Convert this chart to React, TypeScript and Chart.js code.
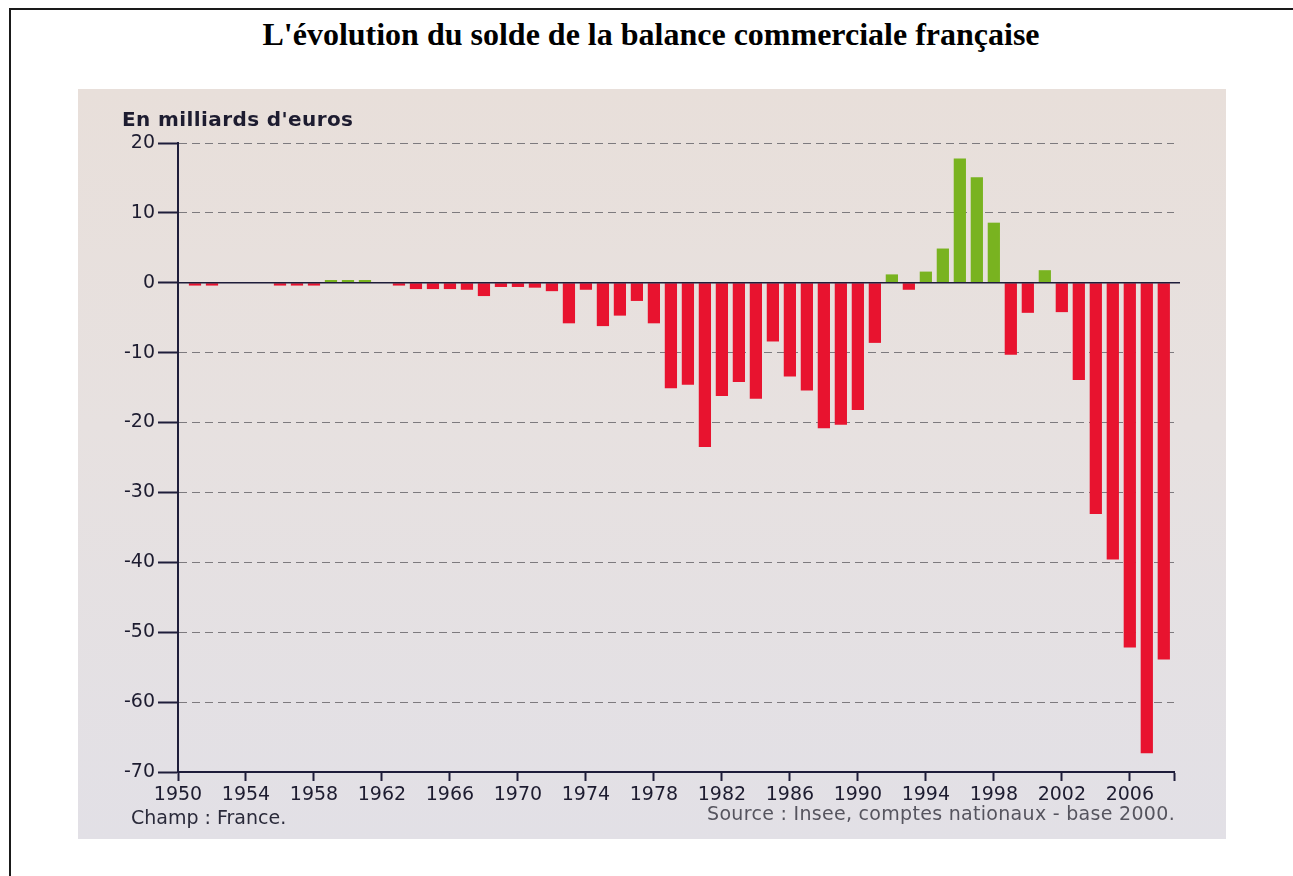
import React, { useEffect, useRef } from "react";
import { Chart, registerables } from "chart.js";

Chart.register(...registerables);

// ---- Data ----
const years = [
  1951, 1952, 1953, 1954, 1955, 1956, 1957, 1958, 1959, 1960,
  1961, 1962, 1963, 1964, 1965, 1966, 1967, 1968, 1969, 1970,
  1971, 1972, 1973, 1974, 1975, 1976, 1977, 1978, 1979, 1980,
  1981, 1982, 1983, 1984, 1985, 1986, 1987, 1988, 1989, 1990,
  1991, 1992, 1993, 1994, 1995, 1996, 1997, 1998, 1999, 2000,
  2001, 2002, 2003, 2004, 2005, 2006, 2007, 2008,
];

const balance = [
  -0.4, -0.4, 0, 0, 0, -0.4, -0.4, -0.4, 0.4, 0.4,
  0.4, 0, -0.4, -0.9, -0.9, -0.9, -1.0, -1.9, -0.6, -0.6,
  -0.7, -1.2, -5.8, -1.0, -6.2, -4.7, -2.6, -5.8, -15.1, -14.6,
  -23.5, -16.2, -14.2, -16.6, -8.4, -13.4, -15.4, -20.8, -20.3, -18.2,
  -8.6, 1.2, -1.0, 1.6, 4.9, 17.8, 15.1, 8.6, -10.3, -4.3,
  1.8, -4.2, -13.9, -33.1, -39.6, -52.2, -67.3, -53.9,
];

const tickYears = [1950, 1954, 1958, 1962, 1966, 1970, 1974, 1978, 1982, 1986, 1990, 1994, 1998, 2002, 2006];
const X_MIN = 1950;
const X_MAX = 2008.6;
const Y_MIN = -70;
const Y_MAX = 20;
const Y_STEP = 10;

const pageTitle = "L'évolution du solde de la balance commerciale française";
const unitLabel = "En milliards d'euros";
const fieldNote = "Champ : France.";
const sourceNote = "Source : Insee, comptes nationaux - base 2000.";

// ---- Styles ----
const RED = "#e8132f";
const GREEN = "#79b320";
const AXIS = "#1e1d3a";
const TXT = "#1d1c30";
const GRID = "#7d7a7e";
const FONT = "'DejaVu Sans', 'Open Sans', sans-serif";

export default function App() {
  const canvasRef = useRef<HTMLCanvasElement | null>(null);

  useEffect(() => {
    const canvas = canvasRef.current;
    if (!canvas) return;

    const zeroLine = {
      id: "zeroLine",
      afterDatasetsDraw(chart: any) {
        const { ctx, chartArea, scales } = chart;
        const y = scales.y.getPixelForValue(0);
        ctx.save();
        ctx.strokeStyle = AXIS;
        ctx.lineWidth = 1.5;
        ctx.beginPath();
        ctx.moveTo(chartArea.left, y);
        ctx.lineTo(chartArea.right + 6, y);
        ctx.stroke();
        ctx.restore();
      },
    };

    const chart = new Chart(canvas, {
      type: "bar",
      data: {
        datasets: [
          {
            data: years.map((x, i) => ({ x, y: balance[i] })),
            backgroundColor: (c: any) => ((c.parsed && c.parsed.y) >= 0 ? GREEN : RED),
            barPercentage: 0.72,
            categoryPercentage: 1,
            borderWidth: 0,
          } as any,
        ],
      },
      options: {
        animation: false,
        responsive: false,
        maintainAspectRatio: false,
        layout: { padding: { left: 0, right: 52, top: 54, bottom: 0 } },
        plugins: {
          legend: { display: false },
          title: { display: false },
          tooltip: { enabled: false },
        },
        scales: {
          x: {
            type: "linear",
            min: X_MIN,
            max: X_MAX,
            offset: false,
            bounds: "data",
            grid: {
              offset: false,
              drawOnChartArea: false,
              drawTicks: true,
              tickLength: 9,
              tickColor: AXIS,
              tickWidth: 2,
            },
            border: { display: true, color: AXIS, width: 2 },
            afterBuildTicks: (s: any) => {
              s.ticks = [...tickYears, X_MAX].map((v) => ({ value: v }));
            },
            afterFit: (s: any) => {
              s.height = 67;
            },
            ticks: {
              autoSkip: false,
              maxRotation: 0,
              minRotation: 0,
              padding: 3,
              color: TXT,
              font: { family: FONT, size: 19 },
              callback: (v: any) => (tickYears.includes(Number(v)) ? String(v) : ""),
            },
          },
          y: {
            type: "linear",
            min: Y_MIN,
            max: Y_MAX,
            ticks: {
              stepSize: Y_STEP,
              padding: 3,
              color: TXT,
              font: { family: FONT, size: 19 },
              callback: (v: any) => String(v),
            },
            grid: {
              color: (c: any) =>
                c.tick && (c.tick.value === 0 || c.tick.value === Y_MIN) ? "rgba(0,0,0,0)" : GRID,
              lineWidth: 1,
              drawTicks: true,
              tickLength: 20,
              tickColor: AXIS,
              tickWidth: 2,
            },
            border: { display: true, color: AXIS, width: 2, dash: [8, 5] },
            afterFit: (s: any) => {
              s.width = 100;
            },
          },
        },
      } as any,
      plugins: [zeroLine],
    });

    return () => chart.destroy();
  }, []);

  return (
    <div
      style={{
        position: "fixed",
        left: 0,
        top: 0,
        width: 1293,
        height: 876,
        overflow: "hidden",
        background: "#ffffff",
      }}
    >
      <div
        style={{
          position: "absolute",
          left: 9,
          top: 8,
          width: 1320,
          height: 920,
          border: "2px solid #1a1a1a",
          boxSizing: "border-box",
        }}
      />
      <div
        style={{
          position: "absolute",
          left: 0,
          top: 18,
          width: 1302,
          textAlign: "center",
          fontFamily: "'Liberation Serif', 'Times New Roman', serif",
          fontWeight: "bold",
          fontSize: 32,
          lineHeight: "32px",
          color: "#000",
          whiteSpace: "nowrap",
        }}
      >
        {pageTitle}
      </div>
      <div
        style={{
          position: "absolute",
          left: 78,
          top: 89,
          width: 1148,
          height: 750,
          background: "linear-gradient(180deg, #e8dfda 0%, #e7e1e0 45%, #e2e0e6 100%)",
        }}
      >
        <canvas
          ref={canvasRef}
          width={1148}
          height={750}
          style={{ position: "absolute", left: 0, top: 0, width: 1148, height: 750 }}
        />
        <div
          style={{
            position: "absolute",
            left: 44,
            top: 18,
            fontFamily: FONT,
            fontWeight: "bold",
            fontSize: 20,
            color: TXT,
            whiteSpace: "nowrap",
            letterSpacing: 0.4,
          }}
        >
          {unitLabel}
        </div>
        <div
          style={{
            position: "absolute",
            left: 53,
            top: 717,
            fontFamily: FONT,
            fontSize: 19,
            color: "#2a2a3a",
            whiteSpace: "nowrap",
          }}
        >
          {fieldNote}
        </div>
        <div
          style={{
            position: "absolute",
            right: 1148 - 1097,
            top: 713,
            fontFamily: FONT,
            fontSize: 19,
            color: "#55545e",
            whiteSpace: "nowrap",
            letterSpacing: 0.3,
          }}
        >
          {sourceNote}
        </div>
      </div>
    </div>
  );
}
